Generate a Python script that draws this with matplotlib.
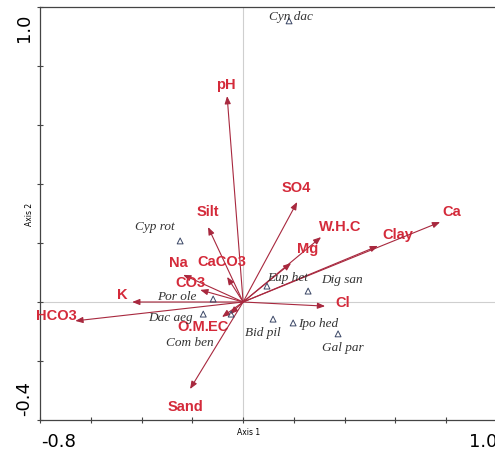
import matplotlib.pyplot as plt

# environmental vectors (CCA biplot scores)
env_names = ["pH", "Silt", "CaCO3", "Na", "CO3", "K", "HCO3", "O.M.", "EC",
             "Sand", "SO4", "W.H.C", "Mg", "Clay", "Ca", "Cl"]
env_x = [-0.063, -0.138, -0.063, -0.236, -0.169, -0.437, -0.661, -0.083, -0.051,
         -0.209, 0.213, 0.307, 0.189, 0.531, 0.776, 0.323]
env_y = [0.698, 0.254, 0.085, 0.092, 0.041, 0.0, -0.064, -0.051, -0.041,
         -0.295, 0.339, 0.220, 0.132, 0.190, 0.271, -0.014]

# species scores
sp_names = ["Cyn dac", "Cyp rot", "Por ole", "Dac aeg", "Com ben", "Eup het",
            "Dig san", "Bid pil", "Ipo hed", "Gal par"]
sp_x = [0.181, -0.248, -0.118, -0.157, -0.047, 0.094, 0.256, 0.118, 0.197, 0.374]
sp_y = [0.953, 0.207, 0.010, -0.041, -0.041, 0.054, 0.037, -0.058, -0.071, -0.108]

# label offsets in pixels (dx right, dy up)
env_off = {"pH": (-1, 12), "Silt": (0, 16), "CaCO3": (-5, 16), "Na": (-5, 13),
           "CO3": (-10, 8), "K": (-10, 8), "HCO3": (-19, 6), "O.M.": (-29, -9),
           "EC": (-12, -12), "Sand": (-5, -17), "SO4": (-1, 15), "W.H.C": (19, 11),
           "Mg": (17, 15), "Clay": (20, 12), "Ca": (12, 11), "Cl": (18, 4)}
sp_off = {"Cyn dac": (2, 5), "Cyp rot": (-25, 15), "Por ole": (-36, 3),
          "Dac aeg": (-33, -3), "Com ben": (-41, -28), "Eup het": (21, 9),
          "Dig san": (34, 12), "Bid pil": (-10, -13), "Ipo hed": (25, 0),
          "Gal par": (5, -13)}

px2pt = 72 / 100

fig = plt.figure(figsize=(4.95, 4.52), dpi=100)
ax = fig.add_axes([40 / 495, 31 / 452, 457 / 495, 413 / 452])
ax.set_xlim(-0.8, 1.0)
ax.set_ylim(-0.4, 1.0)

ax.axhline(0, color="#cfcfcf", lw=0.8, zorder=0)
ax.axvline(0, color="#cfcfcf", lw=0.8, zorder=0)

line_col = "#a8283e"
text_col = "#d42a3a"
for name, x, y in zip(env_names, env_x, env_y):
    ax.annotate("", xy=(x, y), xytext=(0, 0),
                arrowprops=dict(arrowstyle="-|>,head_length=0.45,head_width=0.18",
                                color=line_col, lw=0.8, shrinkA=0, shrinkB=0))
    dx, dy = env_off[name]
    ax.annotate(name, xy=(x, y), xytext=(dx * px2pt, dy * px2pt),
                textcoords="offset points", ha="center", va="center",
                color=text_col, fontsize=10.5, fontweight="bold",
                family="Liberation Sans", annotation_clip=False)

ax.scatter(sp_x, sp_y, marker="^", s=18, facecolors="none",
           edgecolors="#3b4766", linewidths=0.7, zorder=3)
for name, x, y in zip(sp_names, sp_x, sp_y):
    dx, dy = sp_off[name]
    ax.annotate(name, xy=(x, y), xytext=(dx * px2pt, dy * px2pt),
                textcoords="offset points", ha="center", va="center",
                color="#333333", fontsize=9.5, style="italic",
                family="Liberation Serif")

ax.set_xticks([-0.8, -0.6, -0.4, -0.2, 0.0, 0.2, 0.4, 0.6, 0.8, 1.0])
ax.set_yticks([-0.4, -0.2, 0.0, 0.2, 0.4, 0.6, 0.8, 1.0])
ax.set_xticklabels([])
ax.set_yticklabels([])
ax.tick_params(direction="inout", length=5, width=0.8, color="#444444")
for sp in ax.spines.values():
    sp.set_color("#444444")
    sp.set_linewidth(0.9)

# end labels of the axes only
ax.text(-0.728, -0.471, "-0.8", fontsize=13, ha="center", va="center", clip_on=False)
ax.text(0.945, -0.471, "1.0", fontsize=13, ha="center", va="center", clip_on=False)
ax.text(-0.862, 0.932, "1.0", fontsize=13, ha="center", va="center",
        rotation=90, clip_on=False)
ax.text(-0.862, -0.325, "-0.4", fontsize=13, ha="center", va="center",
        rotation=90, clip_on=False)

ax.text(0.02, -0.425, "Axis 1", fontsize=5.5, ha="center", va="top", clip_on=False)
ax.text(-0.825, 0.3, "Axis 2", fontsize=5.5, ha="right", va="center",
        rotation=90, clip_on=False)

fig.savefig("out.png", dpi=100)
